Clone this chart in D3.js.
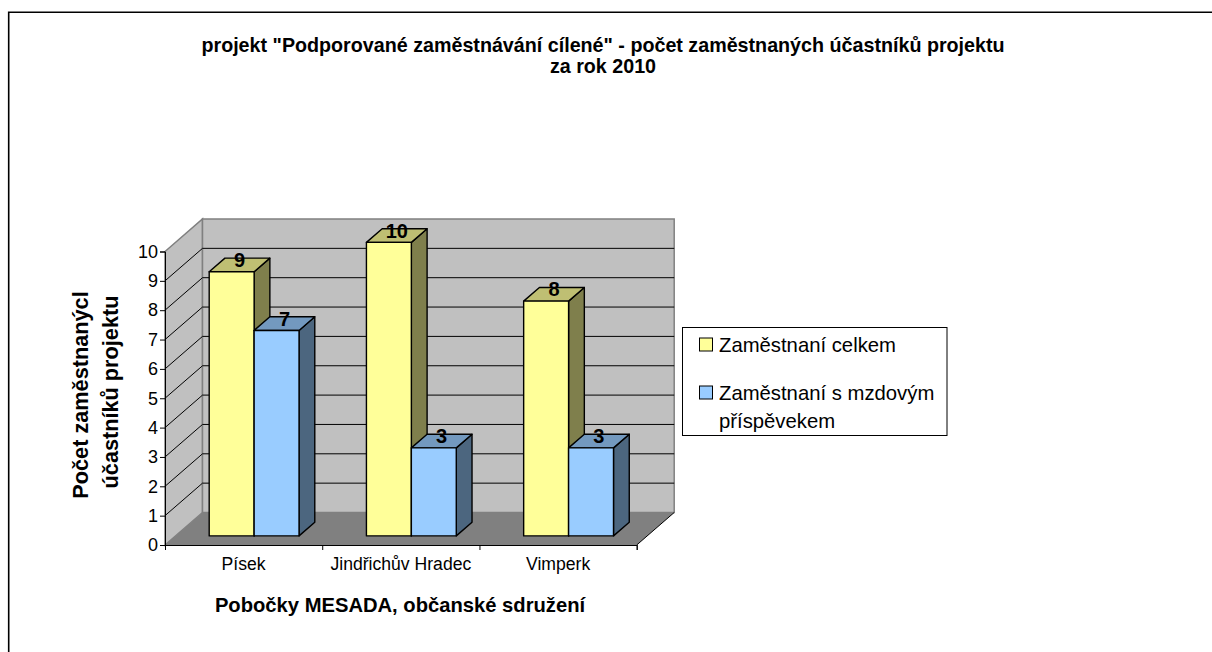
<!DOCTYPE html>
<html>
<head>
<meta charset="utf-8">
<script src="https://cdn.jsdelivr.net/npm/d3@7"></script>
<style>
  body { margin: 0; background: #fff; overflow: hidden; }
  text { font-family: "Liberation Sans", Arial, sans-serif; fill: #000; }
</style>
</head>
<body>
<svg id="chart" width="1212" height="652"></svg>
<script>
/* DATA */
const categories = ["Písek", "Jindřichův Hradec", "Vimperk"];
const celkem = [9, 10, 8];
const prispevek = [7, 3, 3];
const yTicks = [0, 1, 2, 3, 4, 5, 6, 7, 8, 9, 10];
const titleLines = ['projekt "Podporované zaměstnávání cílené" - počet zaměstnaných účastníků projektu', "za rok 2010"];
const yTitleLines = ["Počet zaměstnanýcl", "účastníků projektu"];
const xTitle = "Pobočky MESADA, občanské sdružení";
const legendLines = [["Zaměstnaní celkem"], ["Zaměstnaní s mzdovým", "příspěvekem"]];

/* COLORS */
const colors = [
  { front: "#ffff99", top: "#bfbf73", side: "#7f7f4c" },
  { front: "#99ccff", top: "#7399bf", side: "#4c667f" }
];

const svg = d3.select("#chart");

// outer chart frame, only the top and left edges are inside the picture
svg.append("path")
  .attr("d", d3.line()([[8.7, 652], [8.7, 12.2], [1212, 12.2]]))
  .attr("fill", "none").attr("stroke", "#000").attr("stroke-width", 1.6);

/* SCALES */
const plot = { left: 165, right: 636.7, top: 251.5, bottom: 545 };
const depth = { x: 37.5, y: 32.5 };

const yScale = d3.scaleLinear().domain([0, 10]).range([plot.bottom, plot.top]);
const edgeScale = d3.scaleLinear().domain([0, categories.length]).range([plot.left, plot.right]);
const x0 = d3.scaleBand().domain(categories).range([plot.left, plot.right])
  .paddingInner(0.4286).paddingOuter(0.2143);
const x1 = d3.scaleBand().domain([0, 1]).range([0, x0.bandwidth()]);

// projects a point (x on the front plane, y value, z 0..1 going back) to the screen
const px = (x, z) => x + z * depth.x;
const py = (v, z) => yScale(v) - z * depth.y;
const poly = pts => pts.map(p => p.join(",")).join(" ");

/* WALLS AND FLOOR */
const x1p = plot.left, x2p = plot.right;
svg.append("polygon") // floor
  .attr("points", poly([[px(x1p, 0), py(0, 0)], [px(x2p, 0), py(0, 0)], [px(x2p, 1), py(0, 1)], [px(x1p, 1), py(0, 1)]]))
  .attr("fill", "#808080");
svg.append("polygon") // side wall
  .attr("points", poly([[px(x1p, 0), py(0, 0)], [px(x1p, 1), py(0, 1)], [px(x1p, 1), py(10, 1)], [px(x1p, 0), py(10, 0)]]))
  .attr("fill", "#c0c0c0").attr("stroke", "#808080").attr("stroke-width", 1.5);
svg.append("polygon") // back wall
  .attr("points", poly([[px(x1p, 1), py(0, 1)], [px(x2p, 1), py(0, 1)], [px(x2p, 1), py(10, 1)], [px(x1p, 1), py(10, 1)]]))
  .attr("fill", "#c0c0c0").attr("stroke", "#808080").attr("stroke-width", 1.5);

/* GRIDLINES */
yTicks.filter(d => d > 0 && d < 10).forEach(d => {
  svg.append("polyline")
    .attr("points", poly([[px(x1p, 0), py(d, 0)], [px(x1p, 1), py(d, 1)], [px(x2p, 1), py(d, 1)]]))
    .attr("fill", "none").attr("stroke", "#000").attr("stroke-width", 1);
});

/* AXES */
const yAxis = svg.append("g")
  .attr("transform", `translate(${plot.left},0)`)
  .call(d3.axisLeft(yScale).tickValues(yTicks).tickFormat(d3.format("d")).tickSize(5).tickPadding(2));
yAxis.selectAll("text").attr("font-size", 18).attr("font-family", null);
yAxis.select(".domain").attr("stroke", "#000");

svg.append("g")
  .attr("transform", `translate(0,${plot.bottom})`)
  .call(d3.axisBottom(edgeScale).tickValues(d3.range(categories.length + 1)).tickFormat("").tickSize(5));

const xLabels = svg.append("g")
  .attr("transform", `translate(0,${plot.bottom})`)
  .call(d3.axisBottom(x0).tickSize(0).tickPadding(13));
xLabels.select(".domain").remove();
xLabels.selectAll("text").attr("font-size", 17.6).attr("font-family", null);

svg.append("line") // floor front-right edge
  .attr("x1", px(x2p, 0)).attr("y1", py(0, 0))
  .attr("x2", px(x2p, 1)).attr("y2", py(0, 1))
  .attr("stroke", "#000");

/* BARS */
const zFront = 0.28, zBack = 0.7;
const barData = categories.flatMap((c, i) => [
  { cat: c, s: 0, value: celkem[i] },
  { cat: c, s: 1, value: prispevek[i] }
]);

const bars = svg.selectAll(".bar")
  .data(barData)
  .join("g")
  .attr("class", "bar")
  .attr("stroke", "#000")
  .attr("stroke-width", 1.4)
  .attr("stroke-linejoin", "round");

bars.each(function(d) {
  const g = d3.select(this);
  const l = x0(d.cat) + x1(d.s), r = l + x1.bandwidth();
  g.append("polygon") // side
    .attr("fill", colors[d.s].side)
    .attr("points", poly([[px(r, zFront), py(0, zFront)], [px(r, zBack), py(0, zBack)], [px(r, zBack), py(d.value, zBack)], [px(r, zFront), py(d.value, zFront)]]));
  g.append("polygon") // top
    .attr("fill", colors[d.s].top)
    .attr("points", poly([[px(l, zFront), py(d.value, zFront)], [px(l, zBack), py(d.value, zBack)], [px(r, zBack), py(d.value, zBack)], [px(r, zFront), py(d.value, zFront)]]));
  g.append("rect") // front
    .attr("fill", colors[d.s].front)
    .attr("x", px(l, zFront)).attr("y", py(d.value, zFront))
    .attr("width", x1.bandwidth()).attr("height", py(0, 0) - py(d.value, 0));
});

/* DATA LABELS */
svg.selectAll(".bar-label")
  .data(barData)
  .join("text")
  .attr("class", "bar-label")
  .attr("x", d => px(x0(d.cat) + x1(d.s) + x1.bandwidth() / 2, 0.49))
  .attr("y", d => py(d.value, 0.49) + 2)
  .attr("text-anchor", "middle")
  .attr("font-size", 20)
  .attr("font-weight", "bold")
  .text(d => d.value);

/* TITLES */
svg.selectAll(".title")
  .data(titleLines)
  .join("text")
  .attr("class", "title")
  .attr("x", 603)
  .attr("y", (d, i) => 52 + i * 21)
  .attr("text-anchor", "middle")
  .attr("font-size", 19.7)
  .attr("font-weight", "bold")
  .text(d => d);

svg.selectAll(".y-title")
  .data(yTitleLines)
  .join("text")
  .attr("class", "y-title")
  .attr("transform", (d, i) => `translate(${88 + i * 30},${395 - i * 3}) rotate(-90)`)
  .attr("text-anchor", "middle")
  .attr("font-size", 21.7)
  .attr("font-weight", "bold")
  .text(d => d);

svg.append("text")
  .attr("x", 400).attr("y", 612)
  .attr("text-anchor", "middle")
  .attr("font-size", 20.2)
  .attr("font-weight", "bold")
  .text(xTitle);

/* LEGEND */
const legend = svg.append("g");
legend.append("rect")
  .attr("x", 682.5).attr("y", 327.5)
  .attr("width", 264.5).attr("height", 108)
  .attr("fill", "#fff").attr("stroke", "#000");

const legendRows = [{ y: 344.5, lines: legendLines[0] }, { y: 392.5, lines: legendLines[1] }];
legendRows.forEach((row, i) => {
  legend.append("rect")
    .attr("x", 699.5).attr("y", row.y - 6.5)
    .attr("width", 13).attr("height", 13)
    .attr("fill", colors[i].front).attr("stroke", "#000");
  row.lines.forEach((line, j) => {
    legend.append("text")
      .attr("x", 719).attr("y", row.y + 7 + j * 28)
      .attr("font-size", 20.3)
      .text(line);
  });
});
</script>
</body>
</html>
